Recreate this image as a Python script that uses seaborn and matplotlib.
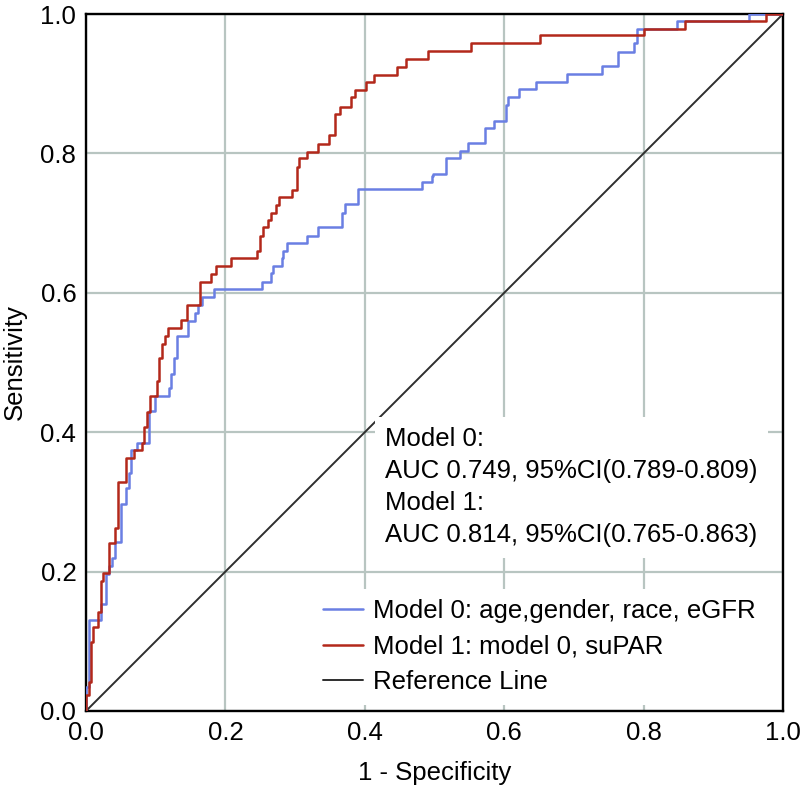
import matplotlib
matplotlib.use('Agg')
import matplotlib.pyplot as plt
import seaborn as sns
import pandas as pd

# ROC knots: at fpr[i] the sensitivity steps up to tpr[i] (steps-post)
m1_fpr = [0, 0, 0.004, 0.007, 0.0105, 0.017, 0.0215, 0.025, 0.0334, 0.042, 0.0454, 0.057, 0.069, 0.080,
          0.0836, 0.087, 0.092, 0.102, 0.105, 0.1085, 0.114, 0.118, 0.136, 0.145, 0.1634, 0.180, 0.187,
          0.208, 0.245, 0.250, 0.254, 0.261, 0.265, 0.273, 0.277, 0.295, 0.303, 0.305, 0.317, 0.333,
          0.349, 0.357, 0.364, 0.380, 0.386, 0.402, 0.413, 0.446, 0.459, 0.491, 0.553, 0.651, 0.801,
          0.859, 0.976, 1.0]
m1_tpr = [0, 0.023, 0.042, 0.099, 0.121, 0.142, 0.186, 0.198, 0.2415, 0.262, 0.329, 0.3625, 0.3745, 0.385,
          0.407, 0.429, 0.452, 0.474, 0.506, 0.5265, 0.538, 0.549, 0.561, 0.5825, 0.615, 0.627, 0.638,
          0.6495, 0.660, 0.682, 0.694, 0.705, 0.714, 0.726, 0.737, 0.748, 0.781, 0.794, 0.802, 0.814,
          0.826, 0.857, 0.867, 0.881, 0.891, 0.902, 0.913, 0.924, 0.935, 0.947, 0.958, 0.970, 0.979,
          0.990, 1.0, 1.0]

m0_fpr = [0, 0, 0.005, 0.0215, 0.0287, 0.0334, 0.0373, 0.042, 0.050, 0.057, 0.061, 0.0645, 0.0727, 0.091,
          0.099, 0.119, 0.122, 0.126, 0.131, 0.147, 0.156, 0.161, 0.167, 0.184, 0.253, 0.265, 0.2685,
          0.2805, 0.283, 0.2877, 0.317, 0.333, 0.368, 0.372, 0.390, 0.482, 0.496, 0.498, 0.517, 0.537,
          0.548, 0.572, 0.586, 0.602, 0.6055, 0.621, 0.646, 0.690, 0.741, 0.763, 0.786, 0.790, 0.848,
          0.951, 1.0]
m0_tpr = [0, 0.034, 0.131, 0.154, 0.197, 0.208, 0.219, 0.242, 0.297, 0.320, 0.341, 0.374, 0.385, 0.430,
          0.452, 0.463, 0.4835, 0.506, 0.538, 0.560, 0.5715, 0.5825, 0.594, 0.605, 0.616, 0.628, 0.638,
          0.6495, 0.660, 0.671, 0.682, 0.694, 0.715, 0.727, 0.749, 0.759, 0.767, 0.770, 0.793, 0.803,
          0.8145, 0.837, 0.847, 0.869, 0.881, 0.892, 0.902, 0.914, 0.925, 0.946, 0.958, 0.979, 0.990,
          1.0, 1.0]

ref_x = [0.0, 1.0]
ref_y = [0.0, 1.0]

labels = ['Model 0: age,gender, race, eGFR', 'Model 1: model 0, suPAR', 'Reference Line']
colors = ['#6a7fe3', '#b3281a', '#2e2e2e']
auc_text = ('Model 0:\nAUC 0.749, 95%CI(0.789-0.809)\n'
            'Model 1:\nAUC 0.814, 95%CI(0.765-0.863)')
ticks = [0.0, 0.2, 0.4, 0.6, 0.8, 1.0]

sns.set_style('whitegrid')
plt.rcParams['font.family'] = ['Liberation Sans', 'DejaVu Sans']
plt.rcParams['text.color'] = 'black'
plt.rcParams['axes.labelcolor'] = 'black'

FS = 18.5

fig = plt.figure(figsize=(8.02, 7.89), dpi=100)
ax = fig.add_axes([86/802, 1 - 711/789, 697/802, 697/789])

df0 = pd.DataFrame({'fpr': m0_fpr, 'tpr': m0_tpr})
df1 = pd.DataFrame({'fpr': m1_fpr, 'tpr': m1_tpr})
dfr = pd.DataFrame({'fpr': ref_x, 'tpr': ref_y})

sns.lineplot(data=df0, x='fpr', y='tpr', estimator=None, sort=False, drawstyle='steps-post',
             color=colors[0], linewidth=1.8, ax=ax, label=labels[0], zorder=3)
sns.lineplot(data=df1, x='fpr', y='tpr', estimator=None, sort=False, drawstyle='steps-post',
             color=colors[1], linewidth=1.8, ax=ax, label=labels[1], zorder=4)
sns.lineplot(data=dfr, x='fpr', y='tpr', estimator=None, sort=False,
             color=colors[2], linewidth=1.4, ax=ax, label=labels[2], zorder=2)

ax.set_xlim(0, 1)
ax.set_ylim(0, 1)
ax.set_xticks(ticks)
ax.set_yticks(ticks)
ax.set_xticklabels([f'{t:.1f}' for t in ticks])
ax.set_yticklabels([f'{t:.1f}' for t in ticks])
ax.tick_params(axis='both', length=0, pad=7, labelsize=FS, colors='black')
ax.grid(True, color='#b8c5c1', linewidth=1.6)
ax.set_axisbelow(True)
for s in ax.spines.values():
    s.set_edgecolor('black')
    s.set_linewidth(1.7)

ax.set_xlabel('1 - Specificity', fontsize=FS, labelpad=12)
ax.set_ylabel('Sensitivity', fontsize=FS, labelpad=10)

ax.text(0.429, 0.407, auc_text, transform=ax.transAxes, fontsize=FS, va='top', ha='left',
        linespacing=1.42, zorder=5,
        bbox=dict(facecolor='white', edgecolor='none', boxstyle='square,pad=0.4'))

leg = ax.legend(loc='lower left', bbox_to_anchor=(0.325, 0.009), borderaxespad=0, frameon=True,
                fontsize=FS, handlelength=1.55, handletextpad=0.4, labelspacing=0.45,
                borderpad=0.4, fancybox=False)
leg.get_frame().set_facecolor('white')
leg.get_frame().set_edgecolor('none')
leg.get_frame().set_alpha(1)

fig.savefig('out.png', dpi=100)
